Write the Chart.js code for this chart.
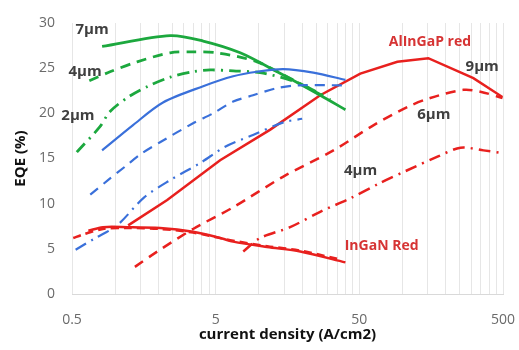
<!DOCTYPE html>
<html>
<head>
<meta charset="utf-8">
<script src="https://cdn.jsdelivr.net/npm/chart.js@4.4.1/dist/chart.umd.min.js"></script>
<style>
  html, body { margin: 0; padding: 0; background: #ffffff; }
  #wrap { width: 519px; height: 350px; }
</style>
</head>
<body>
<div id="wrap"><canvas id="c" width="519" height="350"></canvas></div>
<script>
// ---- data (x: current density A/cm2, y: EQE %) ----
const green7x  = [0.81, 2.41, 4.09, 7.41, 13.4, 26.7, 40];
const green7y  = [27.4, 28.6, 28.0, 26.7, 24.6, 22.0, 20.4];
const green4x  = [0.66, 0.92, 1.42, 2.41, 3.48, 5.12, 9.7, 17.3, 31.4];
const green4y  = [23.6, 24.6, 25.7, 26.7, 26.8, 26.7, 25.7, 23.7, 21.5];
const green2x  = [0.54, 0.78, 0.92, 1.23, 1.69, 2.41, 3.48, 4.58, 6.62, 10.2, 17.9, 28];
const green2y  = [15.7, 18.5, 20.2, 21.8, 23.0, 24.0, 24.6, 24.8, 24.7, 24.5, 23.5, 22.0];
const blue7x   = [0.81, 1.33, 2.15, 4.09, 6.62, 9.7, 14.8, 23.9, 40];
const blue7y   = [15.9, 18.7, 21.2, 23.0, 24.1, 24.6, 24.9, 24.5, 23.7];
const blue4x   = [0.67, 0.89, 1.17, 1.54, 2.05, 3.48, 4.8, 6.62, 9.1, 13.4, 18.5, 38.7];
const blue4y   = [11.0, 12.6, 14.1, 15.6, 16.8, 18.9, 20.0, 21.3, 22.0, 22.8, 23.1, 23.1];
const blue2x   = [0.53, 0.71, 1.03, 1.59, 2.41, 3.9, 5.82, 9.1, 14.8, 20];
const blue2y   = [4.9, 6.1, 7.6, 10.7, 12.6, 14.5, 16.3, 17.6, 19.0, 19.4];
const red9x    = [1.23, 2.3, 5.37, 12, 26.7, 50.8, 92, 151, 311, 496];
const red9y    = [7.6, 10.4, 14.8, 18.2, 22.0, 24.4, 25.7, 26.1, 23.9, 21.8];
const red6x    = [1.37, 1.96, 3.48, 6.62, 14.8, 33, 63, 108, 156, 265, 348, 496];
const red6y    = [3.0, 4.7, 7.2, 9.6, 13.0, 15.9, 18.7, 20.7, 21.7, 22.6, 22.4, 21.7];
const red4x    = [7.78, 10.2, 16.5, 26.7, 43.3, 70, 108, 175, 253, 366, 496];
const red4y    = [4.7, 6.2, 7.4, 9.1, 10.6, 12.3, 13.7, 15.2, 16.2, 15.9, 15.6];
const inganAx  = [0.65, 0.82, 1.21, 2.05, 3.48, 5.12, 6.62, 11.4, 19.4, 40];
const inganAy  = [7.0, 7.4, 7.4, 7.3, 6.9, 6.3, 5.8, 5.2, 4.7, 3.5];
const inganBx  = [0.51, 0.6, 0.82, 1.21, 2.05, 3.48, 6.62, 11.4, 19.4, 35];
const inganBy  = [6.2, 6.6, 7.2, 7.3, 7.2, 6.8, 5.9, 5.3, 4.8, 3.9];

// axis ticks
const xMajorTicks = [0.5, 5, 50, 500];
const yTicks = [0, 5, 10, 15, 20, 25, 30];

// in-chart text labels (anchored in data coordinates)
const noteText  = ['7μm', '4μm', '2μm', 'AlInGaP red', '9μm', '6μm', '4μm', 'InGaN Red'];
const noteX     = [0.69, 0.617, 0.55, 155, 358, 165, 51, 71.5];
const noteY     = [29.2, 24.6, 19.7, 27.9, 25.2, 19.8, 13.7, 5.3];
const noteIsRed = [false, false, false, true, false, false, false, true];

// ---- build ----
const GREEN = 'rgb(28,168,62)';
const BLUE  = 'rgb(58,112,218)';
const RED   = 'rgb(232,32,30)';
const DASH = [10, 7];
const DASHDOT = [12, 6, 2, 6];
const FONT = '"Open Sans", "Liberation Sans", sans-serif';

function pts(xs, ys) { return xs.map((x, i) => ({ x: x, y: ys[i] })); }
function ds(label, xs, ys, color, dash, width, tension) {
  return {
    label: label, data: pts(xs, ys), borderColor: color, backgroundColor: color,
    borderDash: dash, borderWidth: width, pointRadius: 0, tension: tension, fill: false
  };
}

const datasets = [
  ds('InGaN Red (a)', inganAx, inganAy, RED, [], 2.5, 0.3),
  ds('InGaN Red (b)', inganBx, inganBy, RED, [8, 5], 2.5, 0.3),
  ds('AlInGaP 4μm', red4x, red4y, RED, DASHDOT, 2.5, 0.3),
  ds('AlInGaP 6μm', red6x, red6y, RED, DASH, 2.5, 0.3),
  ds('Blue 2μm', blue2x, blue2y, BLUE, DASHDOT, 2.2, 0.3),
  ds('Blue 4μm', blue4x, blue4y, BLUE, DASH, 2.2, 0.3),
  ds('Blue 7μm', blue7x, blue7y, BLUE, [], 2.2, 0.3),
  ds('Green 2μm', green2x, green2y, GREEN, DASHDOT, 2.8, 0.3),
  ds('Green 4μm', green4x, green4y, GREEN, DASH, 2.8, 0.3),
  ds('Green 7μm', green7x, green7y, GREEN, [], 2.8, 0.3),
  ds('AlInGaP 9μm', red9x, red9y, RED, [], 2.5, 0)
];

function gridValues() {
  const out = [];
  for (let b = 0.5; b < 500; b *= 10) {
    for (let k = 1; k <= 9; k++) out.push(+(b * k).toPrecision(6));
  }
  out.push(500);
  return out;
}
const xGrid = gridValues();

const notesPlugin = {
  id: 'notes',
  afterDatasetsDraw(chart) {
    const ctx = chart.ctx;
    const xs = chart.scales.x, ys = chart.scales.y;
    ctx.save();
    ctx.textAlign = 'center';
    ctx.textBaseline = 'middle';
    for (let i = 0; i < noteText.length; i++) {
      const red = noteIsRed[i];
      ctx.font = 'bold ' + (red ? '14px ' : '15px ') + FONT;
      ctx.fillStyle = red ? 'rgb(214,52,52)' : '#3f3f3f';
      ctx.fillText(noteText[i], xs.getPixelForValue(noteX[i]), ys.getPixelForValue(noteY[i]));
    }
    ctx.restore();
  }
};

new Chart(document.getElementById('c'), {
  type: 'line',
  data: { datasets: datasets },
  plugins: [notesPlugin],
  options: {
    responsive: false,
    animation: false,
    devicePixelRatio: 1,
    layout: { padding: { top: 23, right: 16, left: 0, bottom: 0 } },
    plugins: { legend: { display: false }, tooltip: { enabled: false } },
    scales: {
      x: {
        type: 'logarithmic',
        min: 0.5, max: 500,
        afterBuildTicks: (scale) => { scale.ticks = xGrid.map(v => ({ value: v })); },
        afterFit: (scale) => { scale.height = 56; scale.paddingRight = 0; scale.paddingLeft = 0; },
        grid: { color: '#e6e6e6', lineWidth: 1, drawTicks: false },
        border: { display: true, color: '#d9d9d9', width: 1 },
        ticks: {
          autoSkip: false, maxRotation: 0, padding: 18,
          color: '#6a6a6a',
          font: { family: FONT, size: 14 },
          callback: (v) => xMajorTicks.indexOf(+(+v).toPrecision(6)) >= 0 ? String(v) : ''
        },
        title: {
          display: true, text: 'current density (A/cm2)', color: '#111111',
          font: { family: FONT, size: 15, weight: 'bold' },
          padding: { top: 0, bottom: 6 }
        }
      },
      y: {
        min: 0, max: 30,
        afterBuildTicks: (scale) => { scale.ticks = yTicks.map(v => ({ value: v })); },
        afterFit: (scale) => { scale.width = 72; scale.paddingTop = 0; scale.paddingBottom = 0; },
        grid: { display: false, drawTicks: false },
        border: { display: false },
        ticks: {
          padding: 17, color: '#6a6a6a',
          font: { family: FONT, size: 14 }
        },
        title: {
          display: true, text: 'EQE (%)', color: '#111111',
          font: { family: FONT, size: 15, weight: 'bold' },
          padding: { top: 12, bottom: 0 }
        }
      }
    }
  }
});
</script>
</body>
</html>
